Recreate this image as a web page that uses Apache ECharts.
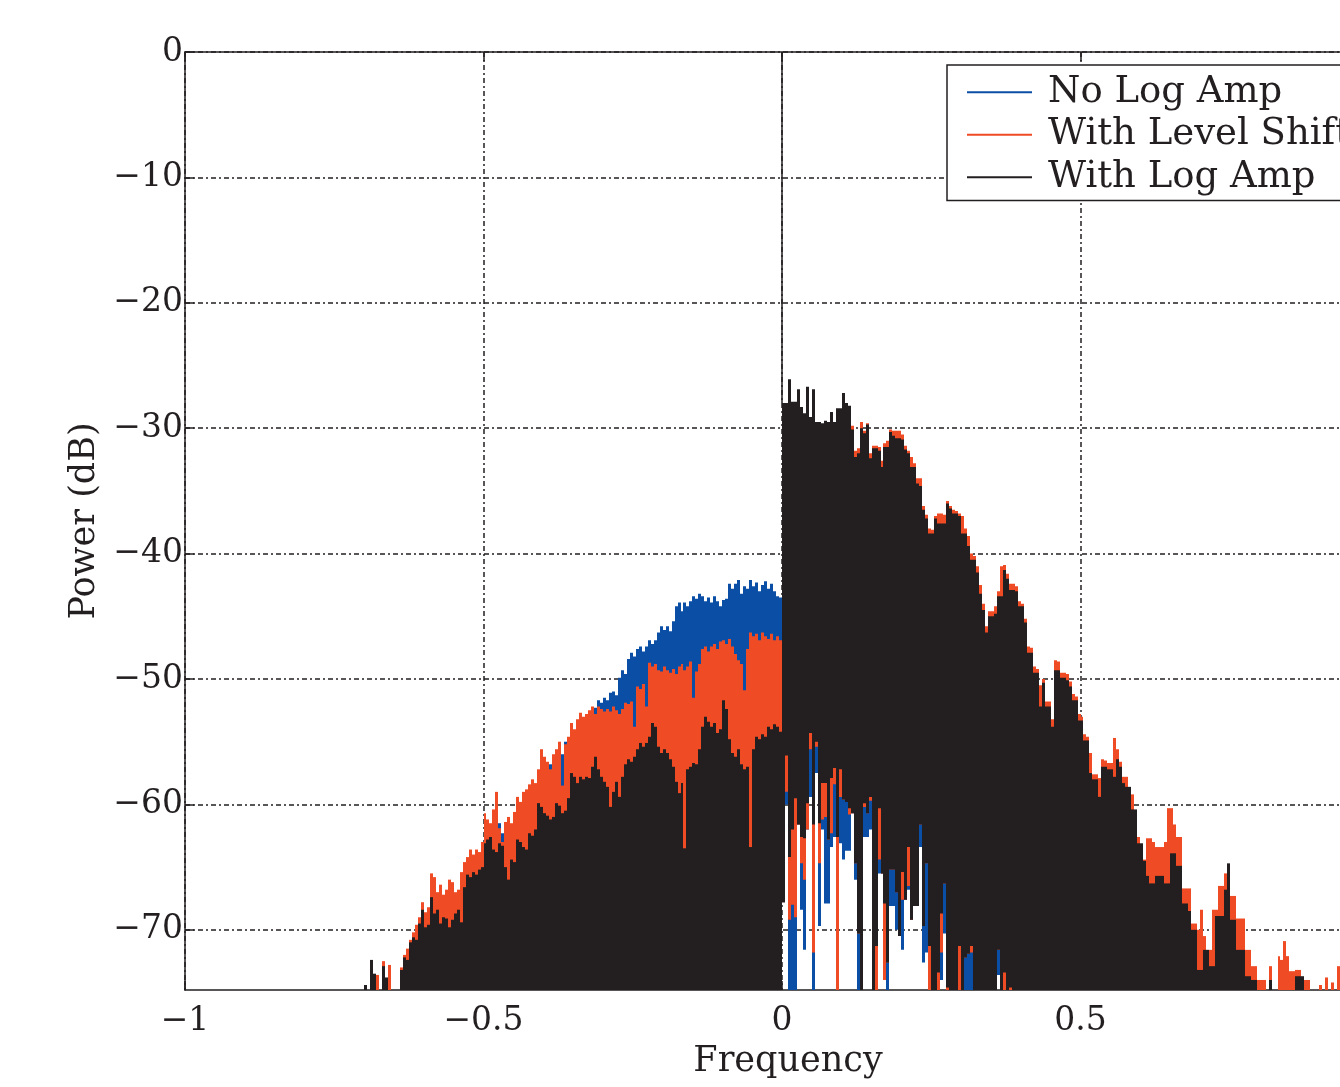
<!DOCTYPE html>
<html><head><meta charset="utf-8">
<script src="https://cdn.jsdelivr.net/npm/echarts@6/dist/echarts.min.js"></script>
<style>html,body{margin:0;padding:0;background:#fff}#c{width:1340px;height:1087px}</style>
</head><body><div id="c"></div>
<script>
// ---- bins: each value is one spectral bin of width binWidth (left edge = start + i*binWidth)
const binWidth = 0.005;
const leftStart = -0.7;
const rightStart = 0;
const floorDb = -75;
const xTicks = [-1, -0.5, 0, 0.5, 1];
const yTicks = [0, -10, -20, -30, -40, -50, -60, -70];
const seriesNames = ['No Log Amp', 'With Level Shift', 'With Log Amp'];

// DC component (thin spike at f = 0)
const dcLine = [[0, -28.0], [0, 0]];

// Negative frequencies (-0.700 .. -0.005), top of each bin (dB)
const blackLeft = [-74.4,-75,-72.4,-73.5,-75,-75,-72.9,-73.8,-75,-75,
 -75,-75,-73.2,-72.2,-72.4,-71.0,-70.6,-70.8,-69.5,-68.4,
 -69.8,-69.6,-67.4,-68.7,-68.4,-69.5,-69.0,-69.1,-69.8,-69.2,
 -68.7,-68.4,-69.4,-66.6,-65.6,-65.8,-65.4,-65.6,-65.2,-65.0,
 -63.1,-62.8,-62.6,-63.6,-63.8,-63.1,-63.3,-65.0,-66.0,-64.4,
 -64.6,-62.8,-63.0,-63.4,-63.6,-62.3,-62.5,-62.0,-59.9,-60.2,
 -60.7,-60.9,-61.2,-61.0,-59.9,-60.1,-60.7,-60.5,-59.5,-57.5,
 -57.8,-58.3,-57.8,-58.0,-57.8,-57.9,-57.0,-56.2,-57.2,-57.8,
 -58.2,-58.6,-60.2,-59.0,-58.2,-59.4,-57.8,-56.8,-56.4,-56.6,
 -56.2,-55.6,-55.1,-55.4,-55.1,-54.6,-53.5,-53.8,-55.4,-55.9,
 -55.6,-55.9,-56.4,-57.0,-58.2,-59.1,-58.3,-63.5,-57.2,-57.0,
 -56.7,-56.8,-55.6,-53.8,-53.0,-53.4,-53.8,-53.5,-54.3,-54.0,
 -51.7,-52.4,-54.8,-55.9,-56.2,-55.6,-56.8,-57.2,-57.0,-63.4,
 -55.6,-54.6,-54.8,-54.4,-54.6,-53.8,-54.0,-53.6,-53.8,-54.2];
const redLeft = [-75,-75,-72.8,-74.0,-73.6,-75,-72.5,-74.0,-72.8,-75,
 -75,-75,-73.0,-72.0,-71.5,-70.8,-70.2,-69.6,-69.0,-67.8,
 -68.6,-68.2,-65.5,-65.8,-67.0,-66.4,-67.2,-66.8,-66.0,-66.2,
 -67.0,-66.8,-65.4,-64.6,-64.2,-63.6,-64.0,-63.6,-63.8,-63.0,
 -60.7,-61.2,-61.5,-60.4,-59.0,-61.9,-63.0,-61.4,-61.0,-61.5,
 -60.6,-59.4,-59.8,-59.0,-58.8,-58.4,-58.0,-58.3,-57.2,-55.6,
 -56.2,-56.6,-57.2,-56.0,-55.6,-55.0,-58.5,-55.2,-54.6,-53.5,
 -54.0,-53.2,-52.7,-53.0,-52.8,-52.5,-52.2,-52.8,-52.2,-52.4,
 -52.6,-52.4,-52.6,-52.2,-52.5,-52.8,-52.4,-51.9,-52.0,-51.8,
 -53.8,-50.6,-50.8,-50.4,-52.2,-48.7,-49.0,-48.8,-49.3,-49.4,
 -49.0,-49.3,-49.5,-49.2,-49.6,-49.0,-48.8,-49.3,-49.0,-48.6,
 -51.5,-49.4,-48.8,-47.6,-47.4,-47.8,-47.4,-47.2,-47.6,-47.0,
 -46.9,-47.2,-46.8,-47.4,-48.0,-48.5,-48.8,-50.9,-47.6,-46.3,
 -46.6,-46.4,-46.9,-46.3,-46.6,-46.8,-46.4,-46.9,-46.6,-46.9];
const blueLeft = [-75,-75,-75,-75,-75,-75,-75,-75,-75,-75,
 -75,-75,-74.0,-73.0,-72.5,-72.0,-71.0,-70.5,-70.0,-69.0,
 -69.5,-69.0,-67.0,-67.5,-68.0,-67.5,-68.0,-67.5,-67.0,-67.2,
 -67.8,-67.5,-66.5,-66.8,-66.0,-65.0,-65.2,-65.0,-64.8,-64.0,
 -62.0,-62.5,-62.5,-61.5,-61.8,-61.5,-62.3,-62.0,-61.8,-62.0,
 -61.2,-60.5,-60.6,-60.0,-59.8,-59.2,-58.8,-59.0,-58.0,-57.0,
 -56.8,-57.0,-56.8,-56.5,-56.0,-55.4,-56.0,-55.0,-54.8,-54.2,
 -54.5,-53.8,-53.5,-53.8,-52.8,-52.6,-52.7,-52.3,-51.7,-51.9,
 -51.5,-51.7,-51.1,-51.0,-51.3,-49.9,-49.3,-49.6,-48.4,-47.9,
 -48.2,-47.6,-47.4,-47.8,-47.4,-46.9,-47.2,-46.9,-46.3,-45.8,
 -46.1,-45.8,-46.2,-45.4,-44.2,-43.9,-44.6,-43.9,-44.2,-43.8,
 -43.4,-43.6,-43.2,-43.4,-43.8,-43.5,-43.9,-43.4,-43.8,-44.2,
 -43.7,-43.6,-42.4,-42.8,-42.4,-42.1,-43.2,-42.6,-42.8,-42.1,
 -42.6,-42.3,-43.0,-42.5,-42.2,-42.8,-42.4,-43.0,-43.4,-43.5];

// Positive frequencies (0.000 ..), top of each bin (dB)
const blackRight = [-28.0,-28.0,-26.1,-27.9,-27.9,-26.9,-28.3,-28.8,-26.7,-29.1,
 -26.9,-29.5,-29.5,-29.6,-29.4,-29.5,-28.7,-29.5,-28.4,-28.4,
 -27.2,-28.0,-28.2,-30.1,-32.3,-32.0,-30.0,-30.4,-29.7,-32.4,
 -31.6,-31.6,-31.8,-33.1,-31.5,-31.5,-30.3,-30.6,-30.8,-30.8,
 -30.9,-31.7,-32.0,-33.1,-33.1,-34.4,-34.6,-36.5,-37.2,-38.4,
 -38.4,-37.2,-37.6,-37.6,-37.6,-36.0,-36.4,-36.8,-36.8,-37.0,
 -38.4,-38.4,-39.4,-40.5,-40.5,-41.5,-43.2,-44.5,-46.3,-45.0,
 -45.0,-44.8,-43.4,-43.4,-41.3,-42.0,-42.9,-42.9,-43.0,-44.2,
 -44.2,-45.5,-47.9,-47.9,-49.5,-49.5,-52.2,-50.3,-52.2,-52.2,
 -53.8,-49.3,-49.3,-49.9,-49.9,-50.1,-50.6,-51.7,-51.7,-53.3,
 -53.3,-54.9,-54.9,-57.5,-58.0,-58.0,-59.4,-57.0,-57.0,-57.2,
 -57.2,-57.8,-56.4,-57.0,-58.3,-58.6,-58.6,-60.4,-60.4,-63.1,
 -63.1,-64.5,-65.7,-66.3,-66.3,-65.7,-65.7,-65.7,-66.3,-66.3,
 -63.9,-63.9,-64.9,-64.9,-67.9,-67.9,-68.5,-70.0,-70.0,-73.2,
 -73.2,-71.6,-71.6,-72.9,-72.9,-68.9,-68.9,-68.9,-66.8,-64.7,
 -69.2,-69.2,-71.6,-71.6,-71.6,-73.7,-73.7,-74.0,-74.0,-75,
 -75,-75,-75,-74.0,-75,-75,-75,-75,-75,-75,-75,-75,-73.7,-73.7,-73.7,-75];
const redRight = [-28.5,-28.3,-26.5,-28.2,-28.1,-27.2,-28.5,-29.0,-27.0,-29.3,
 -27.2,-29.7,-29.7,-29.8,-29.6,-29.7,-28.9,-29.7,-28.6,-28.6,
 -27.4,-28.2,-28.4,-29.8,-31.8,-31.6,-29.5,-30.2,-29.6,-32.0,
 -31.4,-31.4,-31.5,-32.6,-31.2,-31.0,-30.1,-30.2,-30.2,-30.2,
 -30.5,-31.4,-31.8,-32.3,-32.8,-34.0,-34.0,-36.2,-36.9,-38.0,
 -38.1,-37.0,-36.8,-36.8,-36.9,-35.8,-36.2,-36.5,-36.6,-36.8,
 -37.0,-38.0,-38.6,-40.0,-40.2,-41.0,-42.5,-44.0,-45.8,-44.6,
 -44.6,-44.2,-43.0,-41.0,-40.9,-41.6,-42.4,-42.4,-42.6,-43.8,
 -44.0,-45.2,-47.4,-47.5,-49.0,-49.2,-50.5,-50.0,-51.8,-51.8,
 -53.2,-48.5,-48.6,-49.5,-49.5,-49.6,-50.2,-51.2,-51.4,-52.8,
 -53.0,-54.4,-54.6,-55.9,-57.6,-57.6,-57.9,-56.4,-56.5,-56.7,
 -56.7,-54.7,-55.6,-56.6,-57.8,-57.8,-59.2,-59.2,-62.6,-62.6,
 -64.4,-64.4,-62.7,-62.7,-63.0,-63.4,-63.4,-63.4,-63.0,-60.3,
 -60.3,-61.6,-62.6,-62.6,-66.7,-66.7,-66.7,-69.5,-69.5,-70.0,
 -68.4,-70.5,-71.6,-71.6,-68.4,-68.4,-66.5,-66.5,-65.5,-65.5,
 -67.3,-67.3,-69.1,-69.1,-69.1,-71.6,-71.6,-72.9,-72.9,-74.0,
 -74.0,-74.0,-75,-72.9,-75,-75,-72.1,-72.4,-70.9,-72.1,
 -73.3,-73.3,-73.2,-73.2,-74.0,-74.0,-74.0,-75,-75,-75,
 -74.4,-75,-73.8,-75,-74.2,-75,-72.9,-75];
const blueRight = [-31,-31,-30,-31,-31,-30,-31,-32,-30,-32,
 -30,-32,-32,-33,-32,-32,-32,-32,-31,-31,
 -30,-31,-31,-33,-35,-35,-33,-33,-33,-35,
 -35,-35,-35,-36,-35,-35,-33,-34,-34,-34,
 -34,-35,-35,-36,-36,-37,-38,-39,-40,-41,
 -41,-40,-41,-41,-41,-39,-39,-40,-40,-40,
 -41,-41,-42,-43,-44,-45,-46,-47,-49,-48,
 -48,-48,-46,-46,-44,-45,-46];

// Positive frequencies: bottom of each bin (dB) where the trace leaves gaps (0 .. 0.38)
const blackRightLo = [-67.8,-56.1,-64.2,-62.0,-59.5,-61.6,-62.6,-62.7,-59.9,-54.3,
 -61.6,-55.0,-61.5,-58.3,-58.3,-62.8,-57.9,-57.1,-62.6,-57.2,
 -59.6,-59.8,-60.3,-60.7,-64.7,-70.3,-75,-59.9,-60.7,-59.4,
 -75,-71.3,-60.3,-65.5,-67.9,-72.6,-65.2,-65.2,-67.0,-70.5,
 -65.4,-67.6,-63.4,-69.2,-68.1,-68.1,-61.6,-69.7,-64.7,-71.3,
 -75,-75,-73.4,-68.7,-66.3,-74.6,-75,-75,-75,-71.3,
 -75,-72.2,-71.9,-71.3,-75,-75,-75,-75,-75,-75,
 -75,-75,-71.6,-75,-73.4,-75,-74.6];
const redRightLo = [-67.8,-59.0,-69.2,-68.0,-69.0,-61.6,-64.7,-66.0,-62.0,-55.6,
 -71.8,-55.4,-64.7,-61.2,-61.0,-62.8,-62.3,-58.4,-75,-59.4,
 -59.6,-59.8,-60.8,-60.7,-64.7,-70.3,-75,-60.2,-60.7,-59.7,
 -75,-75,-64.4,-65.5,-74.0,-72.6,-65.2,-65.2,-67.0,-70.5,
 -67.6,-67.6,-66.5,-69.2,-68.1,-68.1,-61.6,-69.7,-64.7,-75,
 -75,-75,-75,-71.8,-66.3,-75,-75,-75,-75,-75,
 -75,-72.2,-71.9,-71.8,-75,-75,-75,-75,-75,-75,
 -75,-75,-71.6,-75,-75,-75,-75];
const blueRightLo = [-67.8,-60.0,-75,-75,-75,-61.6,-68.4,-71.6,-62.0,-59.4,
 -75,-57.5,-69.7,-62.0,-67.9,-67.9,-63.4,-62.6,-75,-63.1,
 -64.4,-63.7,-63.7,-60.7,-66.0,-75,-75,-62.6,-62.6,-62.0,
 -75,-75,-65.5,-65.5,-74.0,-75,-68.1,-68.1,-70.0,-70.5,
 -71.6,-67.6,-66.8,-69.2,-68.1,-68.1,-63.4,-72.6,-71.8,-75,
 -75,-75,-75,-74.0,-70.3,-75,-75,-75,-75,-75,
 -75,-75,-75,-75,-75,-75,-75,-75,-75,-75,
 -75,-75,-73.6,-75,-75,-75,-75];

const colors = { blue: '#0b4ea6', red: '#ef4b25', black: '#231f20' };
const FONT = 'DejaVu Serif';
const INK = '#231f20';

function bins(start, hi, lo) {
  return hi.map((h, i) => [start + i * binWidth, h, (lo && lo[i] !== undefined) ? lo[i] : floorDb]);
}
const blueData = bins(leftStart, blueLeft).concat(bins(rightStart, blueRight, blueRightLo));
const redData = bins(leftStart, redLeft).concat(bins(rightStart, redRight, redRightLo));
const blackData = bins(leftStart, blackLeft).concat(bins(rightStart, blackRight, blackRightLo));

function renderBin(params, api) {
  const x0 = api.value(0), hi = api.value(1), lo = api.value(2);
  const a = api.coord([x0, hi]);
  const b = api.coord([x0 + binWidth, lo]);
  const xl = Math.round(a[0]), xr = Math.round(b[0]);
  return { type: 'rect', shape: { x: xl, y: a[1], width: Math.max(1, xr - xl), height: b[1] - a[1] },
           style: { fill: api.visual('color') } };
}
function binSeries(name, data, color) {
  return { name, type: 'custom', data, renderItem: renderBin, clip: true,
           encode: { x: 0, y: [1, 2] }, itemStyle: { color }, silent: true };
}
const fmt = v => (v < 0 ? '\u2212' : '') + String(Math.abs(v));
const grid = { left: 185, right: -39, top: 52, bottom: 97, containLabel: false, outerBoundsMode: 'none' };
const gridLine = { show: true, lineStyle: { color: INK, width: 1.5, type: [5, 3, 2, 3] } };

const chart = echarts.init(document.getElementById('c'), null, { renderer: 'canvas' });
chart.setOption({
  animation: false,
  backgroundColor: '#fff',
  grid,
  legend: {
    data: seriesNames, orient: 'vertical', left: 947, top: 65,
    padding: [6, 60, 2, 20], itemWidth: 65, itemHeight: 2, itemGap: 0, icon: 'rect',
    borderColor: INK, borderWidth: 1.5, backgroundColor: '#fff', selectedMode: false,
    textStyle: { fontFamily: FONT, fontSize: 37, color: INK, lineHeight: 42.5, padding: [0, 0, 0, 11] }
  },
  xAxis: [{
    type: 'value', min: xTicks[0], max: xTicks[xTicks.length - 1], interval: 0.5, position: 'bottom',
    axisLine: { onZero: false, lineStyle: { color: INK, width: 1.5 } },
    axisTick: { inside: true, length: 9, lineStyle: { color: INK, width: 1.5 } },
    axisLabel: { fontFamily: FONT, fontSize: 33, color: INK, margin: 15, formatter: fmt },
    splitLine: gridLine,
    name: 'Frequency', nameLocation: 'middle', nameGap: 54,
    nameTextStyle: { fontFamily: FONT, fontSize: 35, color: INK, padding: [0, 0, 0, 12] }
  }, {
    type: 'value', min: xTicks[0], max: xTicks[xTicks.length - 1], interval: 0.5, position: 'top',
    axisLine: { onZero: false, lineStyle: { color: INK, width: 1.5 } },
    axisTick: { inside: true, length: 9, lineStyle: { color: INK, width: 1.5 } },
    axisLabel: { show: false }, splitLine: { show: false }
  }],
  yAxis: {
    type: 'value', min: -74.8, max: 0,
    axisLine: { show: true, onZero: false, lineStyle: { color: INK, width: 1.5 } },
    axisTick: { inside: true, length: 9, customValues: yTicks, lineStyle: { color: INK, width: 1.5 } },
    axisLabel: { customValues: yTicks, fontFamily: FONT, fontSize: 33, color: INK, margin: 2, formatter: fmt },
    splitLine: gridLine,
    name: 'Power (dB)', nameLocation: 'middle', nameGap: 72, nameRotate: 90,
    nameTextStyle: { fontFamily: FONT, fontSize: 35, color: INK }
  },
  series: [
    binSeries(seriesNames[0], blueData, colors.blue),
    binSeries(seriesNames[1], redData, colors.red),
    binSeries(seriesNames[2], blackData, colors.black),
    { type: 'line', data: dcLine, symbol: 'none', silent: true, clip: true,
      lineStyle: { color: colors.black, width: 1.5 }, z: 3 }
  ]
});
</script>
</body></html>
